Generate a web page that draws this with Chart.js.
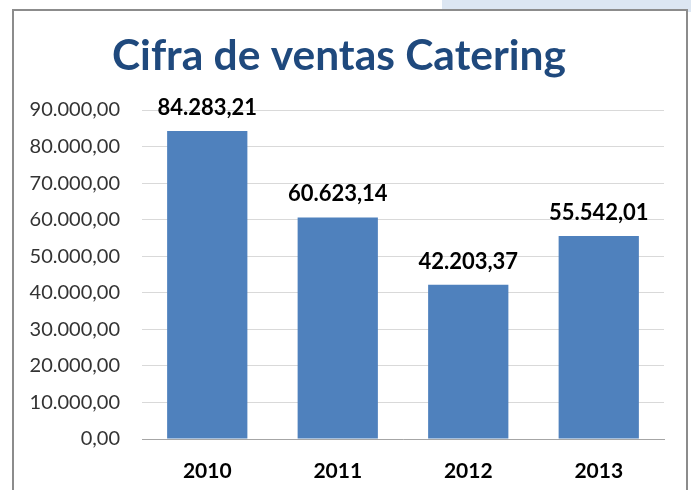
<!DOCTYPE html>
<html>
<head>
<meta charset="utf-8">
<script src="https://cdn.jsdelivr.net/npm/chart.js@4"></script>
<style>
  html, body { margin: 0; padding: 0; background: #fff; }
  #wrap { position: relative; width: 691px; height: 490px; overflow: hidden; }
  #tab { position: absolute; left: 442px; top: 0; width: 249px; height: 12px; background: #dce6f2; }
  #frame { position: absolute; left: 12px; top: 9px; width: 672px; height: 500px; border: 2px solid #8c8c8c; background: #fff; }
  #chart { position: absolute; left: 0; top: 0; }
</style>
</head>
<body>
<div id="wrap">
  <div id="tab"></div>
  <div id="frame"></div>
  <canvas id="chart" width="691" height="490"></canvas>
</div>
<script>
const years = ['2010', '2011', '2012', '2013'];
const sales = [84283.21, 60623.14, 42203.37, 55542.01];
const yMax = 90000;
const yStep = 10000;

const FONT = 'Lato, "Open Sans", sans-serif';

function formatEs(v) {
  const parts = Number(v).toFixed(2).split('.');
  const whole = parts[0].replace(/\B(?=(\d{3})+(?!\d))/g, '.');
  return whole + ',' + parts[1];
}

// values written above each bar
const barLabels = {
  id: 'barLabels',
  afterDatasetsDraw(chart) {
    const ctx = chart.ctx;
    const meta = chart.getDatasetMeta(0);
    ctx.save();
    ctx.font = 'bold 22px ' + FONT;
    ctx.fillStyle = '#000';
    ctx.textAlign = 'center';
    ctx.textBaseline = 'middle';
    meta.data.forEach((bar, i) => {
      ctx.fillText(formatEs(sales[i]), bar.x, bar.y - 23);
    });
    ctx.restore();
  }
};

const ctx = document.getElementById('chart').getContext('2d');
new Chart(ctx, {
  type: 'bar',
  data: {
    labels: years,
    datasets: [{
      data: sales,
      backgroundColor: '#4f81bd',
      borderWidth: 0,
      barPercentage: 0.615,
      categoryPercentage: 1
    }]
  },
  options: {
    responsive: false,
    animation: false,
    layout: {
      padding: { top: 14, left: 14, right: 27, bottom: 9 }
    },
    plugins: {
      legend: { display: false },
      tooltip: { enabled: false },
      title: {
        display: true,
        text: 'Cifra de ventas Catering',
        color: '#1f497d',
        font: { family: FONT, size: 42.5, weight: 'bold', lineHeight: 1.2 },
        padding: { top: 17, bottom: 28 }
      }
    },
    scales: {
      x: {
        afterFit(scale) { scale.height = 42; },
        grid: { display: false, drawTicks: false },
        border: { color: '#a6a6a6', width: 1 },
        ticks: {
          color: '#000',
          padding: 20,
          font: { family: FONT, size: 21, weight: 'bold' }
        }
      },
      y: {
        min: 0,
        max: yMax,
        afterFit(scale) { scale.width = 128; },
        grid: { color: '#d9d9d9', drawTicks: false },
        border: { display: false },
        ticks: {
          stepSize: yStep,
          color: '#333',
          padding: 22,
          font: { family: FONT, size: 20 },
          callback: (v) => formatEs(v)
        }
      }
    }
  },
  plugins: [barLabels]
});
</script>
</body>
</html>
